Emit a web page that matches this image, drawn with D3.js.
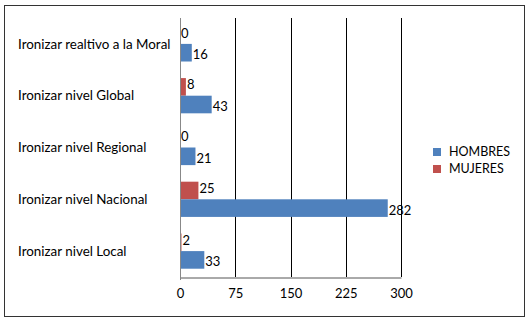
<!DOCTYPE html>
<html lang="es">
  <head>
    <meta charset="utf-8" />
    <title>Ironizar</title>
    <script src="https://d3js.org/d3.v7.min.js"></script>
    <style type="text/css">
      body { margin: 0; background: #fff; }
      svg { font-family: Lato, "Open Sans", sans-serif; }
    </style>
  </head>
  <body>
    <svg id="chart" width="529" height="322"></svg>
    <script type="text/javascript">
      // categories top to bottom
      const categories = ["Ironizar realtivo a la Moral", "Ironizar nivel Global", "Ironizar nivel Regional", "Ironizar nivel Nacional", "Ironizar nivel Local"];
      const hombres = [16, 43, 21, 282, 33];
      const mujeres = [0, 8, 0, 25, 2];
      const seriesNames = ["HOMBRES", "MUJERES"];
      const seriesColors = ["#4F81BD", "#C0504D"];
      const ticks = [0, 75, 150, 225, 300];

      const svg = d3.select("#chart");

      // outer border
      svg.append("rect")
        .attr("x", 4.5).attr("y", 5.5)
        .attr("width", 520).attr("height", 311)
        .attr("fill", "#fff")
        .attr("stroke", "#333")
        .attr("stroke-width", 1);

      const x = d3.scaleLinear().domain([0, 300]).range([180, 401]);
      const y = d3.scaleBand().domain(categories).range([18, 277]).paddingInner(0.32).paddingOuter(0.16);
      const inner = d3.scaleBand().domain(["MUJERES", "HOMBRES"]).range([0, y.bandwidth()]);

      // gridlines
      svg.selectAll("line.grid")
        .data(ticks.slice(1))
        .enter()
        .append("line")
        .attr("class", "grid")
        .attr("x1", d => Math.round(x(d)) + 0.5)
        .attr("x2", d => Math.round(x(d)) + 0.5)
        .attr("y1", 18)
        .attr("y2", 277)
        .attr("stroke", "#000")
        .attr("stroke-width", 1);

      // bottom axis
      const xAxis = svg.append("g")
        .attr("transform", "translate(0,277.5)")
        .call(d3.axisBottom(x).tickValues(ticks).tickSize(0).tickPadding(11));
      xAxis.select(".domain").attr("stroke", "#555");
      xAxis.selectAll("text").attr("font-size", "13px").attr("fill", "#000").attr("font-family", "Lato, sans-serif");

      // category labels
      svg.selectAll("text.cat")
        .data(categories)
        .enter()
        .append("text")
        .attr("class", "cat")
        .attr("x", 18)
        .attr("y", d => y(d) + y.bandwidth() / 2)
        .attr("dy", "0.35em")
        .attr("font-size", "13.4px")
        .attr("fill", "#000")
        .text(d => d);

      const rows = [];
      categories.forEach((c, i) => {
        rows.push({cat: c, s: "MUJERES", v: mujeres[i], color: seriesColors[1]});
        rows.push({cat: c, s: "HOMBRES", v: hombres[i], color: seriesColors[0]});
      });

      svg.selectAll("rect.bar")
        .data(rows)
        .enter()
        .append("rect")
        .attr("class", "bar")
        .attr("x", x(0))
        .attr("y", d => y(d.cat) + inner(d.s))
        .attr("width", d => x(d.v) - x(0))
        .attr("height", inner.bandwidth())
        .attr("fill", d => d.color);

      // vertical axis line
      svg.append("line")
        .attr("x1", 180.5).attr("x2", 180.5)
        .attr("y1", 18).attr("y2", 280)
        .attr("stroke", "#888");

      // value labels
      svg.selectAll("text.val")
        .data(rows)
        .enter()
        .append("text")
        .attr("class", "val")
        .attr("x", d => x(d.v) + 1)
        .attr("y", d => y(d.cat) + inner(d.s) + inner.bandwidth() / 2 + (d.s === "HOMBRES" ? 2 : -2))
        .attr("dy", "0.35em")
        .attr("font-size", "13px")
        .attr("fill", "#000")
        .text(d => d.v);

      // legend
      const legend = svg.selectAll("g.leg")
        .data(seriesNames)
        .enter()
        .append("g")
        .attr("class", "leg")
        .attr("transform", (d, i) => `translate(433,${148 + i * 17})`);
      legend.append("rect")
        .attr("width", 8).attr("height", 8)
        .attr("fill", (d, i) => seriesColors[i]);
      legend.append("text")
        .attr("x", 16).attr("y", 4)
        .attr("dy", "0.35em")
        .attr("font-size", "12.5px")
        .attr("fill", "#000")
        .text(d => d);
    </script>
  </body>
</html>
